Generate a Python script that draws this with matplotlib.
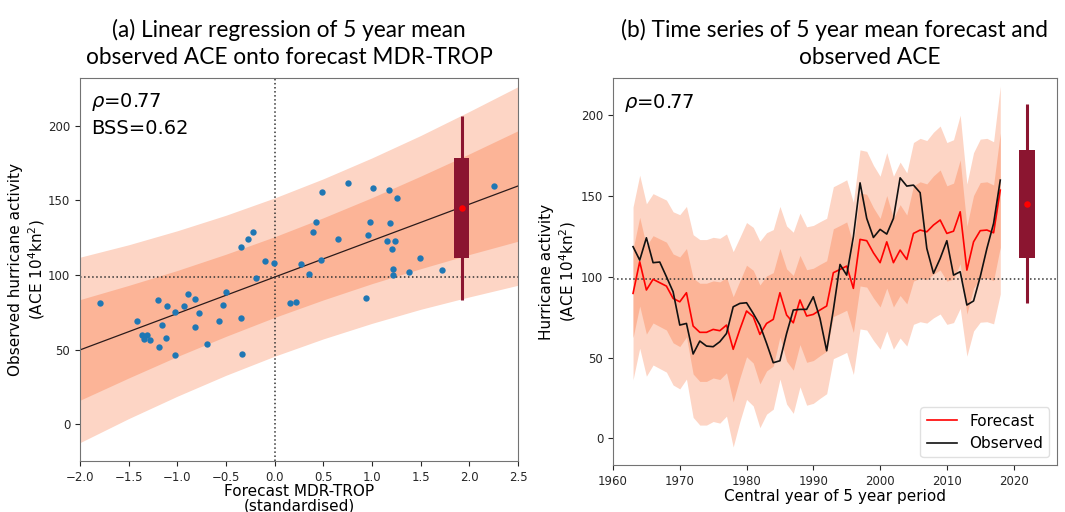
import matplotlib.pyplot as plt
import numpy as np

# ---- panel (a): forecast MDR-TROP (standardised) vs observed ACE ----
fc_std = [-1.79, -1.41, -1.36, -1.34, -1.31, -1.28, -1.20, -1.19, -1.16, -1.12,
          -1.11, -1.02, -1.02, -0.93, -0.89, -0.82, -0.82, -0.78, -0.69, -0.57,
          -0.53, -0.50, -0.35, -0.34, -0.35, -0.27, -0.22, -0.19, -0.10, -0.005,
          0.16, 0.22, 0.27, 0.35, 0.39, 0.42, 0.48, 0.49, 0.65, 0.75,
          0.94, 0.96, 0.98, 1.01, 1.15, 1.17, 1.18, 1.21, 1.22, 1.22,
          1.24, 1.26, 1.38, 1.49, 1.72, 2.25]
obs_ace = [81.0, 69.6, 60.0, 57.4, 59.6, 56.5, 83.3, 51.8, 66.3, 58.0,
           79.0, 46.7, 75.0, 79.5, 87.5, 83.9, 65.2, 74.6, 54.0, 69.6,
           79.9, 88.6, 71.2, 47.5, 118.5, 123.9, 129.0, 98.4, 109.4, 108.3,
           81.0, 82.1, 107.6, 100.7, 128.8, 135.9, 109.8, 155.6, 123.9, 161.4,
           84.8, 126.6, 135.9, 158.3, 122.8, 156.7, 135.0, 117.4, 100.2, 104.0,
           122.8, 151.8, 102.0, 111.4, 103.1, 159.6]

# regression line and prediction bands read at these x positions
band_x = [-2.0, -1.5, -1.0, -0.5, 0.0, 0.5, 1.0, 1.5, 2.0, 2.5]
fit_y = [49.9, 62.1, 74.3, 86.5, 98.7, 110.9, 123.1, 135.3, 147.5, 159.7]
inner_hw = [33.7, 31.0, 28.8, 27.5, 27.0, 27.5, 28.8, 31.0, 33.7, 37.0]
outer_hw = [62.1, 58.2, 55.4, 53.6, 53.0, 53.6, 55.4, 58.2, 62.1, 66.5]
fit_slope = 24.4
clim_mean = 98.7

# 2022 forecast (box: whiskers, quartiles, central value)
box_a_x = 1.92
box_b_x = 2022
box_lo, box_q1, box_mid, box_q3, box_hi = 83.6, 111.6, 145.0, 178.4, 206.6

# ---- panel (b): time series ----
years = list(range(1963, 2019))
forecast = [89.7, 109.3, 91.8, 98.4, 96.3, 94.2, 86.6, 84.5, 90.1, 69.5,
            65.6, 65.6, 67.4, 66.6, 70.1, 55.1, 67.4, 78.8, 75.3, 64.3,
            71.1, 73.6, 90.1, 76.3, 71.5, 85.6, 75.7, 76.7, 79.4, 81.9,
            102.5, 104.5, 106.6, 92.8, 123.1, 122.3, 114.8, 108.7, 121.6, 108.7,
            116.5, 110.7, 126.8, 128.9, 127.8, 132.0, 135.1, 126.8, 128.2, 140.2,
            104.1, 121.6, 128.5, 128.9, 127.2, 153.6]
observed = [118.6, 110.3, 124.1, 108.7, 109.1, 100.0, 90.7, 70.1, 71.1, 52.2,
            60.2, 57.1, 56.7, 59.8, 64.9, 81.4, 83.5, 83.9, 77.3, 70.1,
            58.8, 46.8, 48.0, 64.9, 79.4, 79.8, 79.8, 87.6, 74.2, 54.2,
            79.4, 107.6, 101.0, 124.7, 158.1, 136.1, 124.3, 129.3, 126.4, 136.1,
            161.2, 156.1, 156.7, 152.0, 117.5, 102.1, 111.3, 122.3, 101.0, 103.1,
            82.5, 85.0, 100.0, 117.5, 133.0, 159.8]

LIGHT = "#fdd5c5"
DARK = "#fcb497"
BOXC = "#8b1530"
BLUE = "#1f77b4"

plt.rcParams["font.family"] = "DejaVu Sans"
fig = plt.figure(figsize=(10.65, 5.12), dpi=100)

# ---------------- panel (a) ----------------
ax1 = fig.add_axes([0.0751, 0.0996, 0.4113, 0.748])
bx = np.array(band_x)
fy = np.array(fit_y)
ax1.fill_between(bx, fy - np.array(outer_hw), fy + np.array(outer_hw), color=LIGHT, lw=0)
ax1.fill_between(bx, fy - np.array(inner_hw), fy + np.array(inner_hw), color=DARK, lw=0)
ax1.plot(bx, fy, color="#2b1a1a", lw=0.9)
ax1.axhline(clim_mean, color="0.2", ls=":", lw=1.1)
ax1.axvline(0, color="0.2", ls=":", lw=1.1)
ax1.scatter(fc_std, obs_ace, s=21, color=BLUE, zorder=3, lw=0)

ax1.vlines(box_a_x, box_lo, box_hi, color=BOXC, lw=2.2, zorder=4)
ax1.bar(box_a_x, box_q3 - box_q1, bottom=box_q1, width=0.15, color=BOXC, zorder=4)
ax1.scatter([box_a_x], [box_mid], s=22, color="red", zorder=5, lw=0)

ax1.set_xlim(-2.0, 2.5)
ax1.set_ylim(-24.5, 232)
ax1.set_xticks(np.arange(-2.0, 2.51, 0.5))
ax1.set_yticks([0, 50, 100, 150, 200])
ax1.tick_params(labelsize=8.5, colors="0.15")
ax1.set_xlabel("Forecast MDR-TROP\n(standardised)", fontsize=11, labelpad=0,
               linespacing=0.95)
ax1.set_ylabel("Observed hurricane activity\n(ACE 10$^4$kn$^2$)", fontsize=11, labelpad=1)
ax1.text(0.025, 0.937, r"$\rho$=0.77", transform=ax1.transAxes, fontsize=14, va="center")
ax1.text(0.025, 0.867, "BSS=0.62", transform=ax1.transAxes, fontsize=14, va="center")

# ---------------- panel (b) ----------------
ax2 = fig.add_axes([0.5756, 0.0918, 0.4169, 0.7559])
fc = np.array(forecast)
fc_x = (fc - clim_mean) / fit_slope
in_w = np.interp(fc_x, band_x, inner_hw)
out_w = np.interp(fc_x, band_x, outer_hw)
ax2.fill_between(years, fc - out_w, fc + out_w, color=LIGHT, lw=0)
ax2.fill_between(years, fc - in_w, fc + in_w, color=DARK, lw=0)
ax2.axhline(clim_mean, color="0.2", ls=":", lw=1.1)
ax2.plot(years, forecast, color="red", lw=1.2, label="Forecast")
ax2.plot(years, observed, color="#111111", lw=1.2, label="Observed")

ax2.vlines(box_b_x, box_lo, box_hi, color=BOXC, lw=2.2, zorder=4)
ax2.bar(box_b_x, box_q3 - box_q1, bottom=box_q1, width=2.5, color=BOXC, zorder=4)
ax2.scatter([box_b_x], [box_mid], s=22, color="red", zorder=5, lw=0)

ax2.set_xlim(1960, 2026.5)
ax2.set_ylim(-16.5, 223)
ax2.set_xticks(range(1960, 2021, 10))
ax2.set_yticks([0, 50, 100, 150, 200])
ax2.tick_params(labelsize=8.5, colors="0.15")
ax2.set_xlabel("Central year of 5 year period", fontsize=11, labelpad=1)
ax2.set_ylabel("Hurricane activity\n(ACE 10$^4$kn$^2$)", fontsize=11, labelpad=2)
ax2.text(0.025, 0.935, r"$\rho$=0.77", transform=ax2.transAxes, fontsize=14, va="center")
ax2.legend(loc="lower right", fontsize=11, framealpha=0.8, edgecolor="0.85")

for ax in (ax1, ax2):
    for s in ax.spines.values():
        s.set_color("0.45")

# titles
fig.text(0.2715, 0.942, "(a) Linear regression of 5 year mean", ha="center", va="center",
         fontsize=16.3, family="Lato")
fig.text(0.2715, 0.887, "observed ACE onto forecast MDR-TROP", ha="center", va="center",
         fontsize=16.3, family="Lato")
fig.text(0.784, 0.942, "(b) Time series of 5 year mean forecast and", ha="center", va="center",
         fontsize=16.3, family="Lato")
fig.text(0.817, 0.887, "observed ACE", ha="center", va="center",
         fontsize=16.3, family="Lato")

fig.savefig("out.png", dpi=100)
